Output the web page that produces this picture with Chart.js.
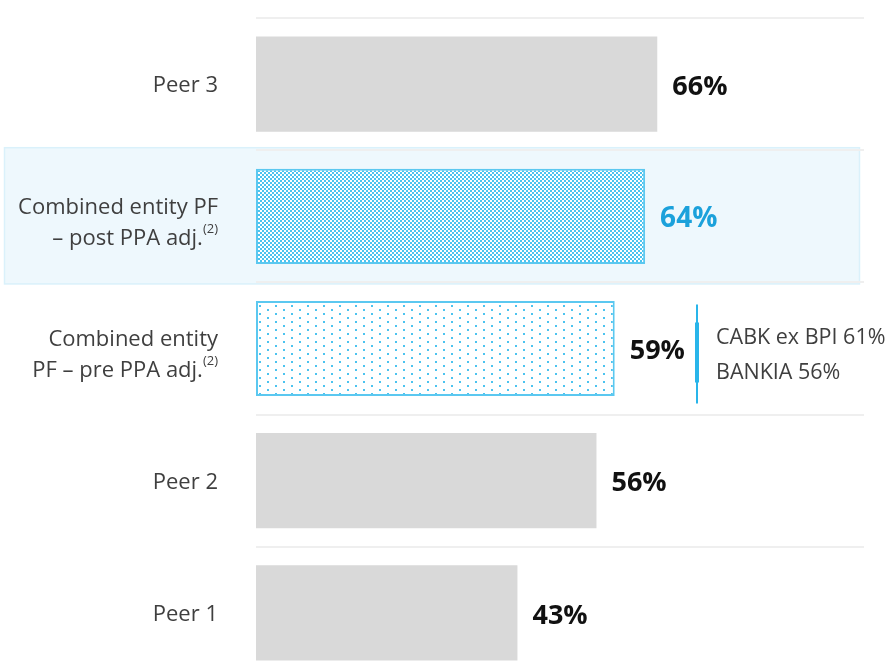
<!DOCTYPE html>
<html lang="en">
<head>
  <meta charset="UTF-8" />
  <title>Cost-to-income comparison</title>
  <script src="https://cdn.jsdelivr.net/npm/chart.js"></script>
  <style>
    html, body {
      margin: 0;
      padding: 0;
      background: #ffffff;
      overflow: hidden;
    }
    .chart-container {
      position: relative;
      width: 886px;
      height: 680px;
    }
  </style>
</head>
<body>

  <div class="chart-container">
    <canvas id="ratioChart"></canvas>
  </div>

<script>
  // data
  const categories = [
    ['Peer 3'],
    ['Combined entity PF', '– post PPA adj.'],
    ['Combined entity', 'PF – pre PPA adj.'],
    ['Peer 2'],
    ['Peer 1']
  ];
  const noteMarks = ['', '(2)', '(2)', '', ''];
  const values = [66, 64, 59, 56, 43];
  const highlightRow = 1;
  const splitRow = 2;
  const splitNotes = ['CABK ex BPI 61%', 'BANKIA 56%'];

  const FONT = '"Open Sans", "Noto Sans", sans-serif';
  const GREY = '#d9d9d9';
  const BLUE = '#4cc3ef';

  function checkerPattern() {
    const c = document.createElement('canvas');
    c.width = 4; c.height = 4;
    const g = c.getContext('2d');
    g.fillStyle = '#ffffff';
    g.fillRect(0, 0, 4, 4);
    g.fillStyle = BLUE;
    g.fillRect(0, 0, 2, 2);
    g.fillRect(2, 2, 2, 2);
    return g.createPattern(c, 'repeat');
  }

  function dotPattern() {
    const c = document.createElement('canvas');
    c.width = 16; c.height = 8;
    const g = c.getContext('2d');
    g.fillStyle = '#ffffff';
    g.fillRect(0, 0, 16, 8);
    g.fillStyle = BLUE;
    g.fillRect(3, 1, 2, 2);
    g.fillRect(11, 5, 2, 2);
    return g.createPattern(c, 'repeat');
  }

  const ctx = document.getElementById('ratioChart').getContext('2d');

  const fills = values.map((v, i) => {
    if (i === highlightRow) return checkerPattern();
    if (i === splitRow) return dotPattern();
    return GREY;
  });
  const borders = values.map((v, i) => (i === highlightRow || i === splitRow) ? '#5bc8f0' : GREY);
  const borderWidths = values.map((v, i) => (i === highlightRow || i === splitRow) ? 2 : 0);

  // light blue panel behind the highlighted row
  const highlightBox = {
    id: 'highlightBox',
    beforeDraw(chart) {
      const y = chart.scales.y;
      const g = chart.ctx;
      const c = y.getPixelForValue(highlightRow);
      const half = (y.getPixelForValue(1) - y.getPixelForValue(0)) / 2;
      g.save();
      g.fillStyle = '#eef8fd';
      g.strokeStyle = '#daf1fb';
      g.lineWidth = 1.5;
      g.fillRect(4, c - half - 3, 856, 2 * half + 5);
      g.strokeRect(4.5, c - half - 2.5, 855, 2 * half + 4);
      g.restore();
    }
  };

  // category labels, value labels, split note
  const textLayer = {
    id: 'textLayer',
    afterDatasetsDraw(chart) {
      const g = chart.ctx;
      const x = chart.scales.x;
      const y = chart.scales.y;
      g.save();

      categories.forEach((lines, i) => {
        const cy = y.getPixelForValue(i);
        const lh = 31;
        const top = lines.length > 1 ? cy - lh / 2 + 7 : cy + 2;
        g.font = '22px ' + FONT;
        g.fillStyle = '#3f3f3f';
        g.textBaseline = 'middle';
        lines.forEach((line, k) => {
          const ly = top + k * lh;
          let right = 218;
          if (k === lines.length - 1 && noteMarks[i]) {
            g.font = '13px ' + FONT;
            g.textAlign = 'right';
            g.fillText(noteMarks[i], right, ly - 10);
            right -= g.measureText(noteMarks[i]).width;
            g.font = '22px ' + FONT;
          }
          g.textAlign = 'right';
          g.fillText(line, right, ly);
        });
      });

      values.forEach((v, i) => {
        const px = x.getPixelForValue(v) + 15;
        const cy = y.getPixelForValue(i) + 3;
        g.textAlign = 'left';
        g.textBaseline = 'middle';
        if (i === highlightRow) {
          g.font = 'bold 28px ' + FONT;
          g.fillStyle = '#1ba1db';
        } else {
          g.font = 'bold 27px ' + FONT;
          g.fillStyle = '#111111';
        }
        g.fillText(v + '%', px, cy);
      });

      // split bracket and note
      const cy = y.getPixelForValue(splitRow);
      g.fillStyle = '#29b5ea';
      g.fillRect(696, cy - 44, 2, 99);
      g.fillRect(695, cy - 26, 4, 60);
      g.font = '21.5px ' + FONT;
      g.fillStyle = '#3f3f3f';
      g.textAlign = 'left';
      g.textBaseline = 'middle';
      splitNotes.forEach((t, k) => g.fillText(t, 716, cy - 11 + k * 35));

      g.restore();
    }
  };

  new Chart(ctx, {
    type: 'bar',
    data: {
      labels: categories.map(l => l.join(' ')),
      datasets: [{
        data: values,
        backgroundColor: fills,
        borderColor: borders,
        borderWidth: borderWidths,
        borderSkipped: false,
        categoryPercentage: 1,
        barPercentage: 0.72
      }]
    },
    options: {
      indexAxis: 'y',
      responsive: true,
      maintainAspectRatio: false,
      animation: false,
      layout: {
        padding: { left: 256, right: 22, top: 18, bottom: 1 }
      },
      plugins: {
        legend: { display: false },
        tooltip: { enabled: false }
      },
      scales: {
        x: {
          display: false,
          min: 0,
          max: 100
        },
        y: {
          offset: true,
          ticks: { display: false },
          border: { display: false },
          grid: {
            offset: true,
            drawTicks: false,
            color: '#efefef',
            lineWidth: 2
          }
        }
      }
    },
    plugins: [highlightBox, textLayer]
  });
</script>
</body>
</html>
